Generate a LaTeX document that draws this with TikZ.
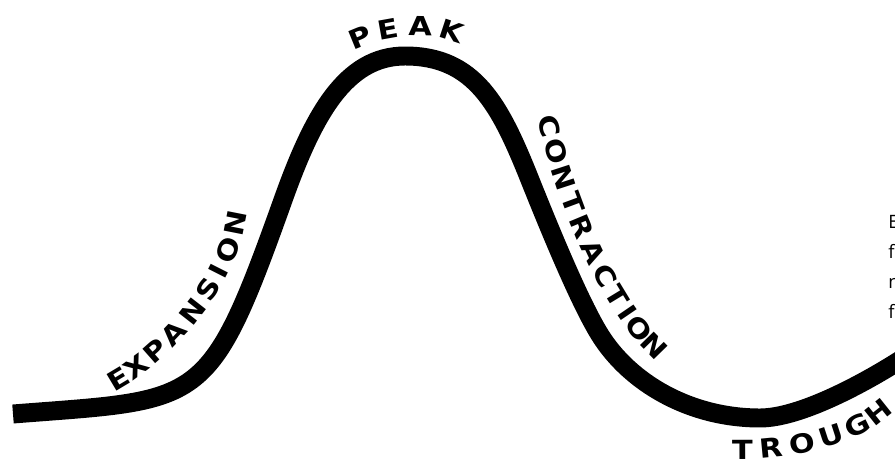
\documentclass[tikz,border=0pt]{standalone}
\usepackage{fontspec}
\setmainfont{Open Sans}
\newfontfamily\phasefam{DejaVu Sans}[FakeStretch=1.15]
\newcommand\phasefont{\phasefam\bfseries\fontsize{15}{18}\selectfont}
\tikzset{
  phasechar/.style={sloped,anchor=base,inner sep=0pt,font=\phasefont}
}
\begin{document}
\begin{tikzpicture}[x=0.02cm,y=-0.02cm,line cap=butt]
  \clip (0,0) rectangle (895,466);
  \draw[line width=10.8pt] (13,414) .. controls (203,399) and (208,410) .. (283,200)
    .. controls (313,116) and (345,56) .. (405,56)
    .. controls (475,56) and (500,105) .. (530,180)
    .. controls (550,230) and (580,303) .. (600,335)
    .. controls (630,383) and (690,418) .. (760,418)
    .. controls (800,418) and (865,383) .. (905,357);
  \foreach \ch/\p [count=\i] in {E/.046,X/.158,P/.272,A/.388,N/.510,S/.629,I/.720,O/.818,N/.945}
    \path (116,391) .. controls (170,362) and (238,290) .. (247,212) node[phasechar,pos=\p] (exp-\i) {\ch};
  \foreach \ch/\p [count=\i] in {P/.102,E/.360,A/.622,K/.895}
    \path (355,50) .. controls (380,36) and (432,30) .. (457,44) node[phasechar,pos=\p] (peak-\i) {\ch};
  \foreach \ch/\p [count=\i] in {C/.041,O/.139,N/.240,T/.334,R/.424,A/.520,C/.613,T/.702,I/.773,O/.852,N/.954}
    \path (538,118) .. controls (555,200) and (600,310) .. (655,360) node[phasechar,pos=\p] (con-\i) {\ch};
  \foreach \ch/\p [count=\i] in {T/.060,R/.222,O/.397,U/.575,G/.751,H/.928}
    \path (732,459) .. controls (790,461) and (860,445) .. (892,413) node[phasechar,pos=\p] (tro-\i) {\ch};
  \node[anchor=north west,align=left,inner sep=0pt,font=\fontsize{10.5}{17}\selectfont] (note) at (888,215) {E\\f\\n\\f};
\end{tikzpicture}
\end{document}
